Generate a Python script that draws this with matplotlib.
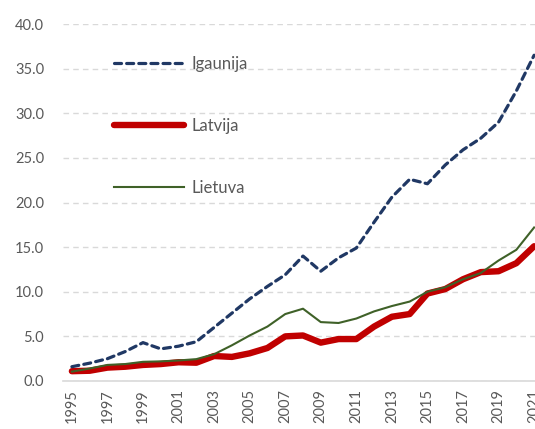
import numpy as np
import matplotlib.pyplot as plt

# =============================================================================
# Data
# =============================================================================
years = list(range(1995, 2022))

igaunija = [1.6, 2.0, 2.5, 3.3, 4.3, 3.6, 3.9, 4.4, 6.0, 7.6,
            9.2, 10.6, 11.9, 14.0, 12.3, 13.8, 14.9, 17.8, 20.6, 22.6,
            22.1, 24.2, 25.9, 27.2, 29.0, 32.5, 36.5]
latvija = [1.1, 1.15, 1.5, 1.6, 1.8, 1.9, 2.1, 2.05, 2.8, 2.7,
           3.1, 3.7, 5.0, 5.1, 4.3, 4.7, 4.7, 6.1, 7.2, 7.5,
           9.8, 10.3, 11.4, 12.2, 12.3, 13.2, 15.1]
lietuva = [1.05, 1.4, 1.8, 1.9, 2.15, 2.2, 2.3, 2.45, 3.0, 4.0,
           5.1, 6.1, 7.5, 8.1, 6.6, 6.5, 7.0, 7.8, 8.4, 8.9,
           10.0, 10.5, 11.4, 12.1, 13.5, 14.7, 17.2]

y_ticks = [0, 5, 10, 15, 20, 25, 30, 35, 40]
x_labels = [str(y) for y in years[::2]]

# =============================================================================
# Figure
# =============================================================================
plt.rcParams['font.family'] = ['Lato', 'DejaVu Sans']

fig = plt.figure(figsize=(5.35, 4.29), dpi=100)
# axes run a bit past the right edge, as in the cropped original
ax = fig.add_axes([63 / 535, 1 - 381 / 429, 480 / 535, 357 / 429])

x = np.arange(len(years))
ax.plot(x, igaunija, color='#203864', lw=2.3, ls=(0, (2.2, 1.6)),
        dash_capstyle='round', label='Igaunija', zorder=3)
ax.plot(x, latvija, color='#C00000', lw=4.6, solid_capstyle='round',
        label='Latvija', zorder=2)
ax.plot(x, lietuva, color='#3F6128', lw=1.5, label='Lietuva', zorder=4)

ax.set_xlim(-0.5, len(years) - 0.5)
ax.set_ylim(0, 40)
ax.set_yticks(y_ticks)
ax.set_yticklabels([f'{v:.1f}' for v in y_ticks])
ax.set_xticks(x[::2])
ax.set_xticklabels(x_labels, rotation=90)

ax.grid(axis='y', color='#D9D9D9', lw=1.0, ls=(0, (4, 3)))
ax.set_axisbelow(True)
for side in ['left', 'right', 'top']:
    ax.spines[side].set_visible(False)
ax.spines['bottom'].set_color('#D9D9D9')
ax.spines['bottom'].set_linewidth(1.2)
ax.tick_params(length=0, colors='#595959', labelsize=10.5)
ax.tick_params(axis='y', pad=13.5)
ax.tick_params(axis='x', pad=6)

leg = ax.legend(loc='upper left', bbox_to_anchor=(0.106, 0.91),
                frameon=False, handlelength=4.2, handletextpad=0.45,
                labelspacing=2.75, borderpad=0, borderaxespad=0,
                fontsize=12)
for t in leg.get_texts():
    t.set_color('#595959')

fig.savefig('out.png', dpi=100)
